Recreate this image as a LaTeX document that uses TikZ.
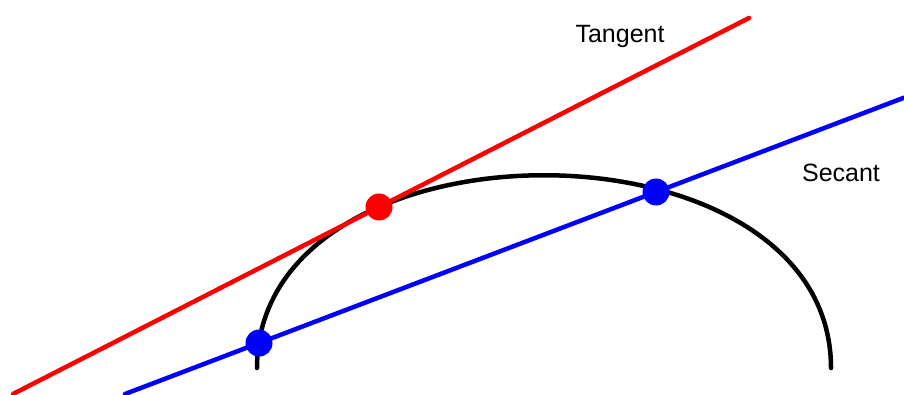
\documentclass[tikz,border=0pt]{standalone}
\usepackage{fontspec}
\setmainfont{Liberation Sans}
\usepackage{xcolor}
\usepackage{tikz}

\tikzset{
	arcline/.style = {line width = 4.5pt, black, line cap = round},
	tangentline/.style = {line width = 4.5pt, red, line cap = round},
	secantline/.style = {line width = 4.5pt, blue, line cap = round},
	dot/.style = {circle, inner sep = 0pt, minimum size = 27pt},
	lbl/.style = {anchor = base, font = \fontsize{25}{30}\selectfont}
}

\begin{document}
\begin{tikzpicture}[x = 1pt, y = 1pt]
	\useasboundingbox (0,0) rectangle (904,394);
	
	\coordinate (a1) at (257,26);
	\coordinate (a2) at (831,26);
	\coordinate (t1) at (13,0);
	\coordinate (t2) at (749,376);
	\coordinate (s1) at (125,0);
	\coordinate (s2) at (904,296.3);
	
	\draw[arcline] (a1) .. controls (257,283) and (831,283) .. (a2);
	
	\draw[secantline] (s1) -- (s2);
	\draw[tangentline] (t1) -- (t2);
	
	\node[dot, fill = red] (tp) at (379,187) {};
	\node[dot, fill = blue] (sp1) at (259,51) {};
	\node[dot, fill = blue] (sp2) at (656,202) {};
	
	\node[lbl] (tlabel) at (620,351) {Tangent};
	\node[lbl] (slabel) at (841,212) {Secant};
	
\end{tikzpicture}
\end{document}
